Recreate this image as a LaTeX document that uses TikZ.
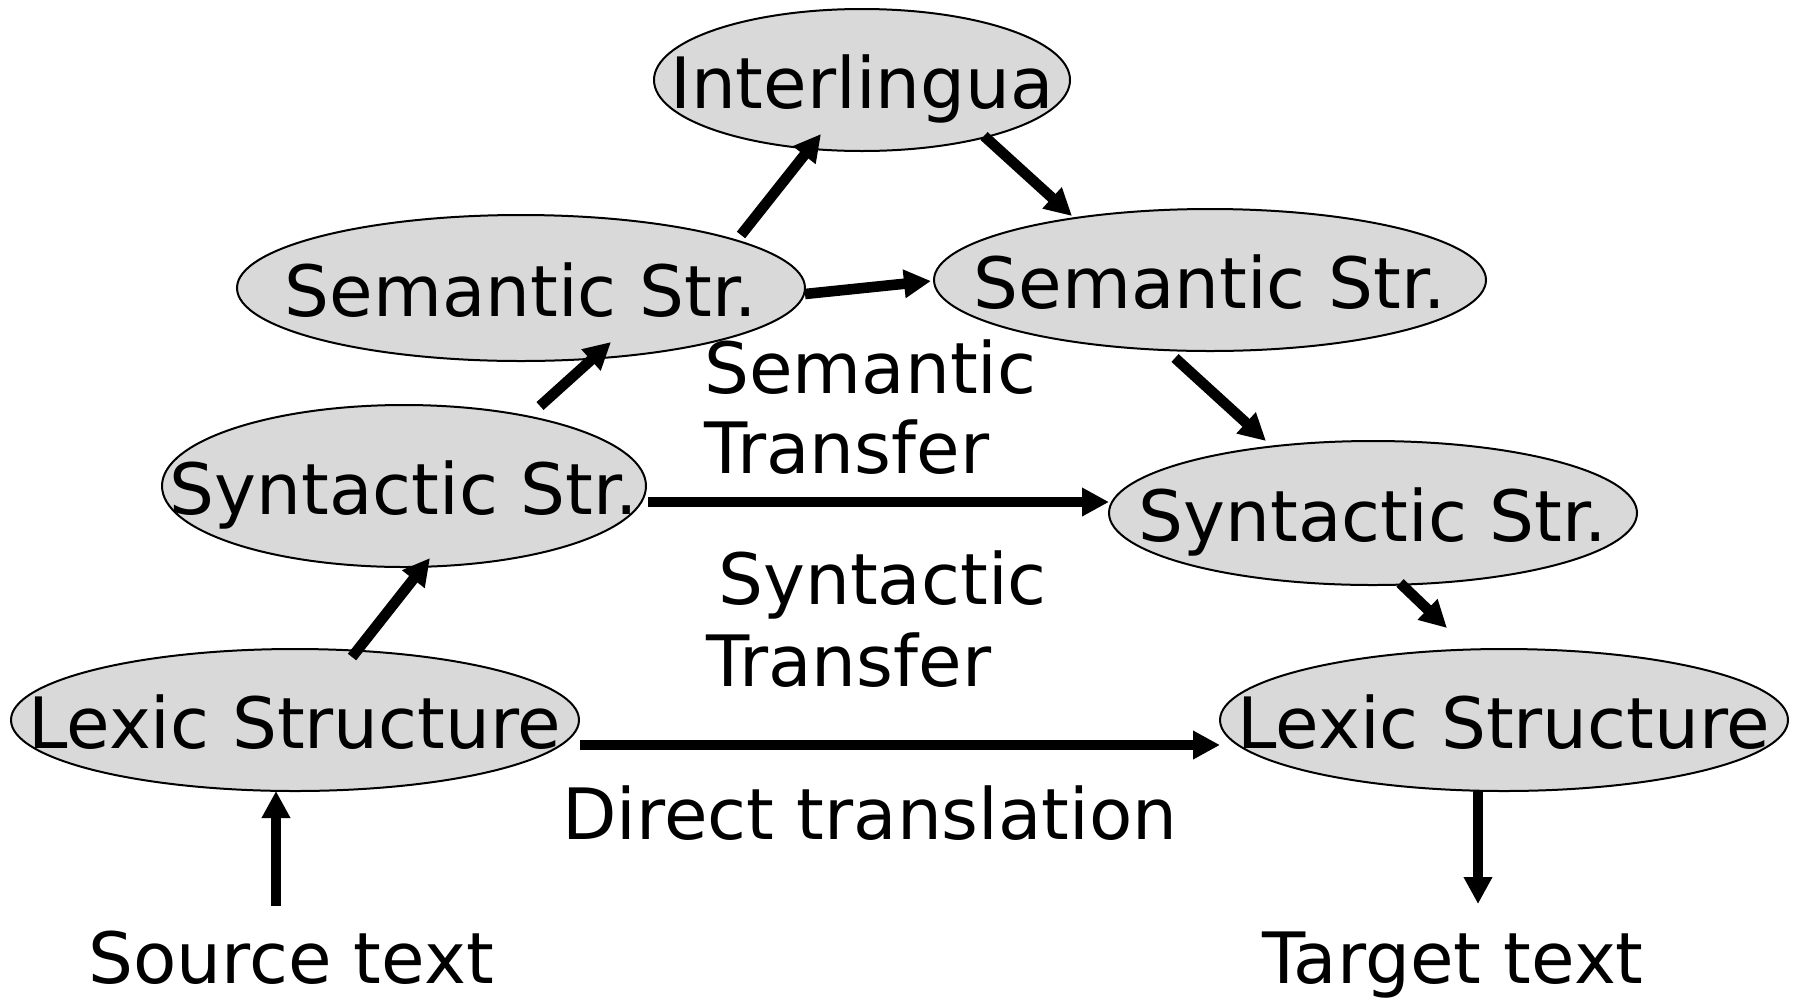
\documentclass[tikz,border=0pt]{standalone}
\usepackage{fontspec}
\setmainfont{DejaVu Sans}
\usetikzlibrary{arrows.meta,shapes.geometric}
\definecolor{nodegray}{HTML}{D9D9D9}
\newcommand\ztext[1]{\makebox[0pt][c]{#1}}
\begin{document}
\begin{tikzpicture}[x=0.5pt,y=-0.5pt,
  ell/.style={ellipse,draw=black,line width=1pt,fill=nodegray,inner sep=0pt,
    text height=28pt,text depth=0pt,font=\fontsize{35.4pt}{42pt}\selectfont},
  lbl/.style={inner sep=0pt,font=\fontsize{35.4pt}{42pt}\selectfont},
  arr/.style={line width=5.3pt,-{Triangle[length=13.5pt,width=13.5pt]}}]
\useasboundingbox (0,0) rectangle (1798,997);
% ellipses
\node[ell,minimum width=208pt,minimum height=71pt] (inter) at (862,80) {\ztext{Interlingua}};
\node[ell,minimum width=284pt,minimum height=73pt] (semL) at (521,288) {\ztext{Semantic Str.}};
\node[ell,minimum width=276pt,minimum height=71pt] (semR) at (1210,280) {\ztext{Semantic Str.}};
\node[ell,minimum width=242pt,minimum height=81pt] (synL) at (404,486) {\ztext{Syntactic Str.}};
\node[ell,minimum width=264pt,minimum height=72pt] (synR) at (1373,513) {\ztext{Syntactic Str.}};
\node[ell,minimum width=284pt,minimum height=71pt] (lexL) at (295,720) {\ztext{Lexic Structure}};
\node[ell,minimum width=284pt,minimum height=71pt] (lexR) at (1504,720) {\ztext{Lexic Structure}};
% labels
\node[lbl,anchor=base west] (semT1) at (704,393) {Semantic};
\node[lbl,anchor=base west] (semT2) at (704,473) {Transfer};
\node[lbl,anchor=base west] (synT1) at (718,604) {Syntactic};
\node[lbl,anchor=base west] (synT2) at (706,686) {Transfer};
\node[lbl,anchor=base west] (dirT) at (562,839) {Direct translation};
\node[lbl,anchor=base] (src) at (291,983) {Source text};
\node[lbl,anchor=base] (tgt) at (1453,983) {Target text};
% arrows
\draw[arr] ([shift={(-15,-77)}]src.base) -- ([shift={(-19,71)}]lexL.center);
\draw[arr] ([shift={(57,-63)}]lexL.center) -- ([shift={(26,72)}]synL.center);
\draw[arr] ([shift={(136,-80)}]synL.center) -- ([shift={(90,54)}]semL.center);
\draw[arr] ([shift={(220,-53)}]semL.center) -- ([shift={(-41,54)}]inter.center);
\draw[arr] ([shift={(284,6)}]semL.center) -- ([shift={(-279,1)}]semR.center);
\draw[arr] ([shift={(122,56)}]inter.center) -- ([shift={(-138,-64)}]semR.center);
\draw[arr] ([shift={(-35,78)}]semR.center) -- ([shift={(-107,-72)}]synR.center);
\draw[arr] ([shift={(244,16)}]synL.center) -- ([shift={(-264,-11)}]synR.center);
\draw[arr] ([shift={(27,70)}]synR.center) -- ([shift={(-57,-92)}]lexR.center);
\draw[arr] ([shift={(285,25)}]lexL.center) -- ([shift={(-284,25)}]lexR.center);
\draw[arr] ([shift={(-26,71)}]lexR.center) -- ([shift={(25,-79)}]tgt.base);
\end{tikzpicture}
\end{document}
